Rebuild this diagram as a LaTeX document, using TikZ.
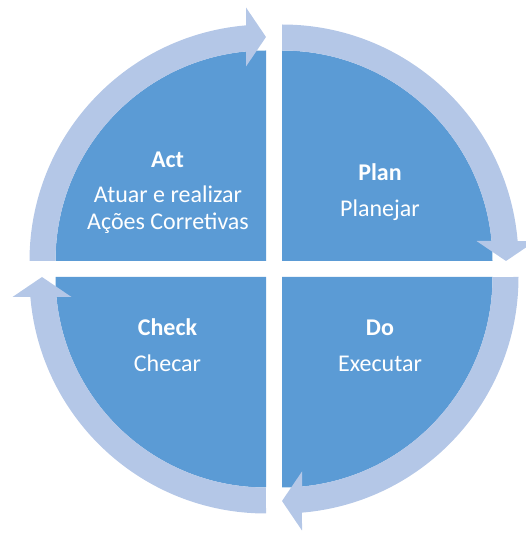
\documentclass[tikz,border=0pt]{standalone}
\usepackage{fontspec}
\setmainfont{Carlito}

\definecolor{pdcadark}{HTML}{5B9BD5}
\definecolor{pdcalight}{HTML}{B4C7E7}

\tikzset{
    quarter/.style={fill=pdcadark},
    ring/.style={fill=pdcalight},
    title/.style={text=white, anchor=base, inner sep=0pt, font=\fontsize{24}{27}\selectfont\bfseries},
    desc/.style={text=white, anchor=base, inner sep=0pt, font=\fontsize{24}{27}\selectfont}
}

\begin{document}
\begin{tikzpicture}[x=1pt, y=1pt]
    \useasboundingbox (0,0) rectangle (525,533);

    % the four quarters
    \fill[quarter] (266,272) -- ++(180:210.5) arc[start angle=180, end angle=90, radius=210.5] -- cycle;
    \fill[quarter] (282,272) -- ++(90:210.5) arc[start angle=90, end angle=0, radius=210.5] -- cycle;
    \fill[quarter] (282,256) -- ++(0:210.5) arc[start angle=0, end angle=-90, radius=210.5] -- cycle;
    \fill[quarter] (266,256) -- ++(-90:210.5) arc[start angle=-90, end angle=-180, radius=210.5] -- cycle;

    % the arrows round the cycle
    \foreach \cx/\cy/\tip in {266/272/90, 282/272/0, 282/256/-90, 266/256/180} {
        \begin{scope}[shift={(\cx,\cy)}, rotate=\tip]
            \fill[ring] (0,236.5) arc[start angle=90, end angle=4.85, radius=236.5]
                -- (253.5,20) -- (224,0) -- (194.5,20)
                -- (209.55,20) arc[start angle=5.45, end angle=90, radius=210.5]
                -- cycle;
        \end{scope}
    }

    % texts
    \node[title] (act) at (167.5,365.6) {Act};
    \node[desc] (actone) at (168,330) {Atuar e realizar};
    \node[desc] (acttwo) at (168,303) {Ações Corretivas};
    \node[title] (plan) at (380,352) {Plan};
    \node[desc] (planone) at (380,316) {Planejar};
    \node[title] (check) at (167.5,197.5) {Check};
    \node[desc] (checkone) at (167.5,161.5) {Checar};
    \node[title] (do) at (380,197.5) {Do};
    \node[desc] (doone) at (380,161.5) {Executar};
\end{tikzpicture}
\end{document}
